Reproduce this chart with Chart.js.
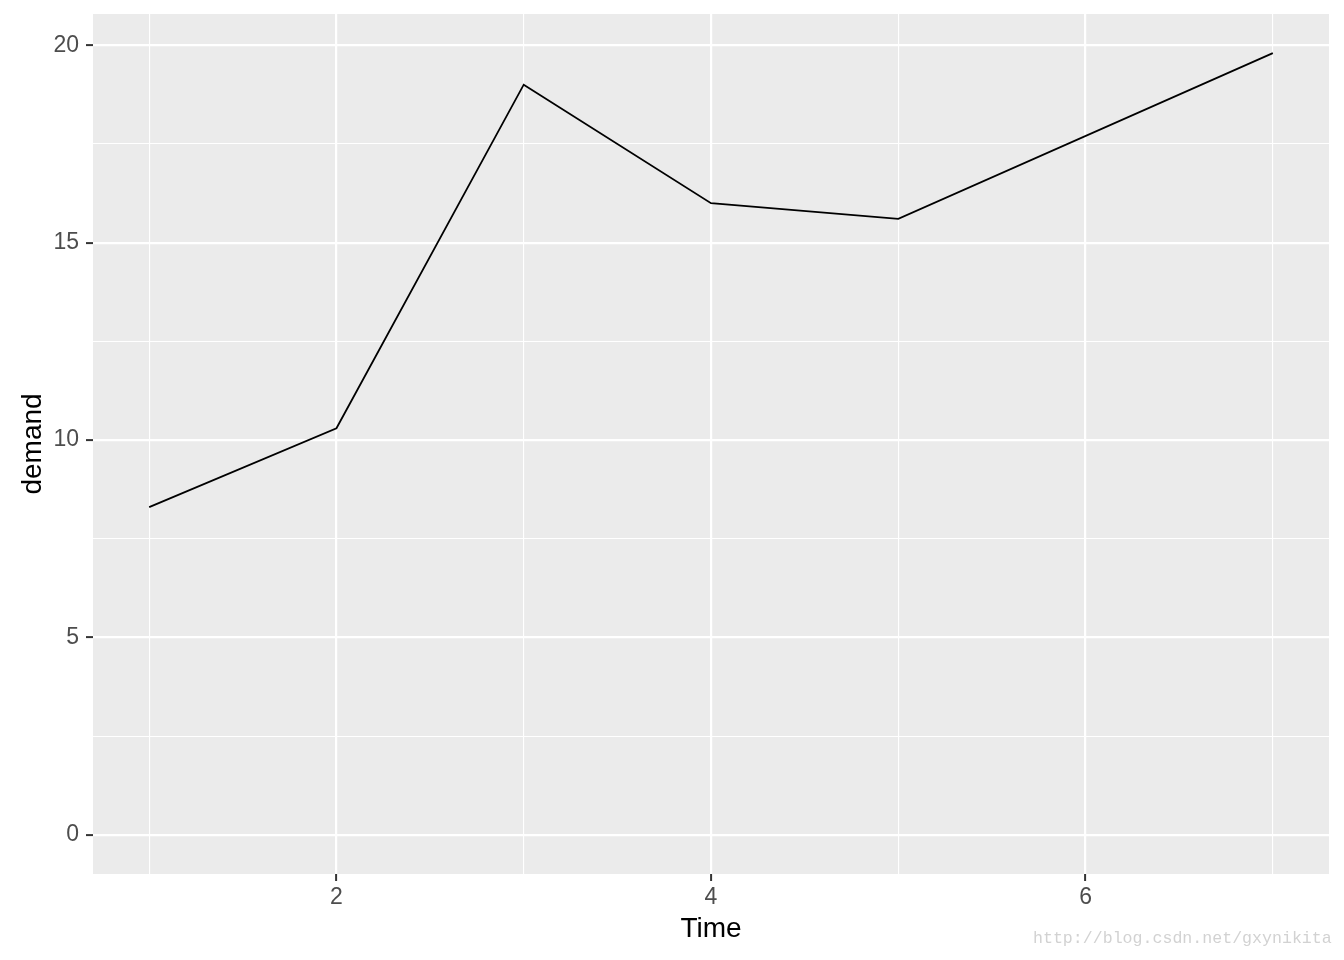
<!DOCTYPE html>
<html>
<head>
<meta charset="utf-8">
<script src="https://cdn.jsdelivr.net/npm/chart.js@4/dist/chart.umd.min.js"></script>
<style>
  html, body { margin: 0; padding: 0; background: #ffffff; }
  #wrap { width: 1344px; height: 960px; position: relative; }
</style>
</head>
<body>
<div id="wrap"><canvas id="bod-chart"></canvas></div>
<script>
// BOD data
const time = [1, 2, 3, 4, 5, 7];
const demand = [8.3, 10.3, 19.0, 16.0, 15.6, 19.8];

const xTicks = [1, 2, 3, 4, 5, 6, 7];
const xLabels = [2, 4, 6];
const yTicks = [0, 2.5, 5, 7.5, 10, 12.5, 15, 17.5, 20];
const yLabels = [0, 5, 10, 15, 20];

const tickFont = {family: "'Liberation Sans', Arial, sans-serif", size: 23};
const titleFont = {family: "'Liberation Sans', Arial, sans-serif", size: 28};

// grey panel + watermark
const panel = {
    id: 'panel',
    beforeDraw(chart) {
        const {ctx, chartArea: a} = chart;
        ctx.save();
        ctx.fillStyle = '#ebebeb';
        ctx.fillRect(a.left, a.top, a.right - a.left, a.bottom - a.top);
        ctx.restore();
    },
    afterDraw(chart) {
        const ctx = chart.ctx;
        ctx.save();
        ctx.fillStyle = '#d2d2d2';
        ctx.font = "16.6px 'Liberation Mono', monospace";
        ctx.textBaseline = 'alphabetic';
        ctx.fillText('http://blog.csdn.net/gxynikita', 1033, 943);
        ctx.restore();
    }
};

function gridFor(labels) {
    return {
        color: '#ffffff',
        lineWidth: c => labels.includes(c.tick.value) ? 2.2 : 1.1,
        drawTicks: true,
        tickLength: 7,
        tickWidth: 2,
        tickColor: c => labels.includes(c.tick.value) ? '#333333' : 'rgba(0,0,0,0)'
    };
}

new Chart(document.getElementById('bod-chart'), {
    type: 'line',
    data: {
        datasets: [{
            label: 'demand',
            data: time.map((t, i) => ({x: t, y: demand[i]})),
            borderColor: '#000000',
            borderWidth: 1.8,
            pointRadius: 0,
            tension: 0,
            fill: false
        }]
    },
    options: {
        animation: false,
        responsive: true,
        maintainAspectRatio: false,
        layout: {padding: {top: 14, right: 15, left: 0, bottom: 0}},
        plugins: {legend: {display: false}, tooltip: {enabled: false}},
        scales: {
            x: {
                type: 'linear',
                min: 0.7,
                max: 7.3,
                border: {display: false},
                grid: gridFor(xLabels),
                afterBuildTicks: s => { s.ticks = xTicks.map(v => ({value: v})); },
                afterFit: s => { s.height = 86; s.paddingLeft = 0; s.paddingRight = 0; },
                ticks: {
                    autoSkip: false,
                    maxRotation: 0,
                    padding: 3,
                    color: '#4d4d4d',
                    font: tickFont,
                    callback: v => xLabels.includes(v) ? String(v) : ''
                },
                title: {
                    display: true,
                    text: 'Time',
                    color: '#000000',
                    font: titleFont,
                    padding: {top: 0, bottom: 13.6}
                }
            },
            y: {
                type: 'linear',
                min: -0.99,
                max: 20.79,
                border: {display: false},
                grid: gridFor(yLabels),
                afterBuildTicks: s => { s.ticks = yTicks.map(v => ({value: v})); },
                afterFit: s => { s.width = 93; s.paddingTop = 0; s.paddingBottom = 0; },
                ticks: {
                    autoSkip: false,
                    padding: 7,
                    color: '#4d4d4d',
                    font: tickFont,
                    callback: v => yLabels.includes(v) ? String(v) : ''
                },
                title: {
                    display: true,
                    text: 'demand',
                    color: '#000000',
                    font: titleFont,
                    padding: {top: 16.8, bottom: 0}
                }
            }
        }
    },
    plugins: [panel]
});
</script>
</body>
</html>
